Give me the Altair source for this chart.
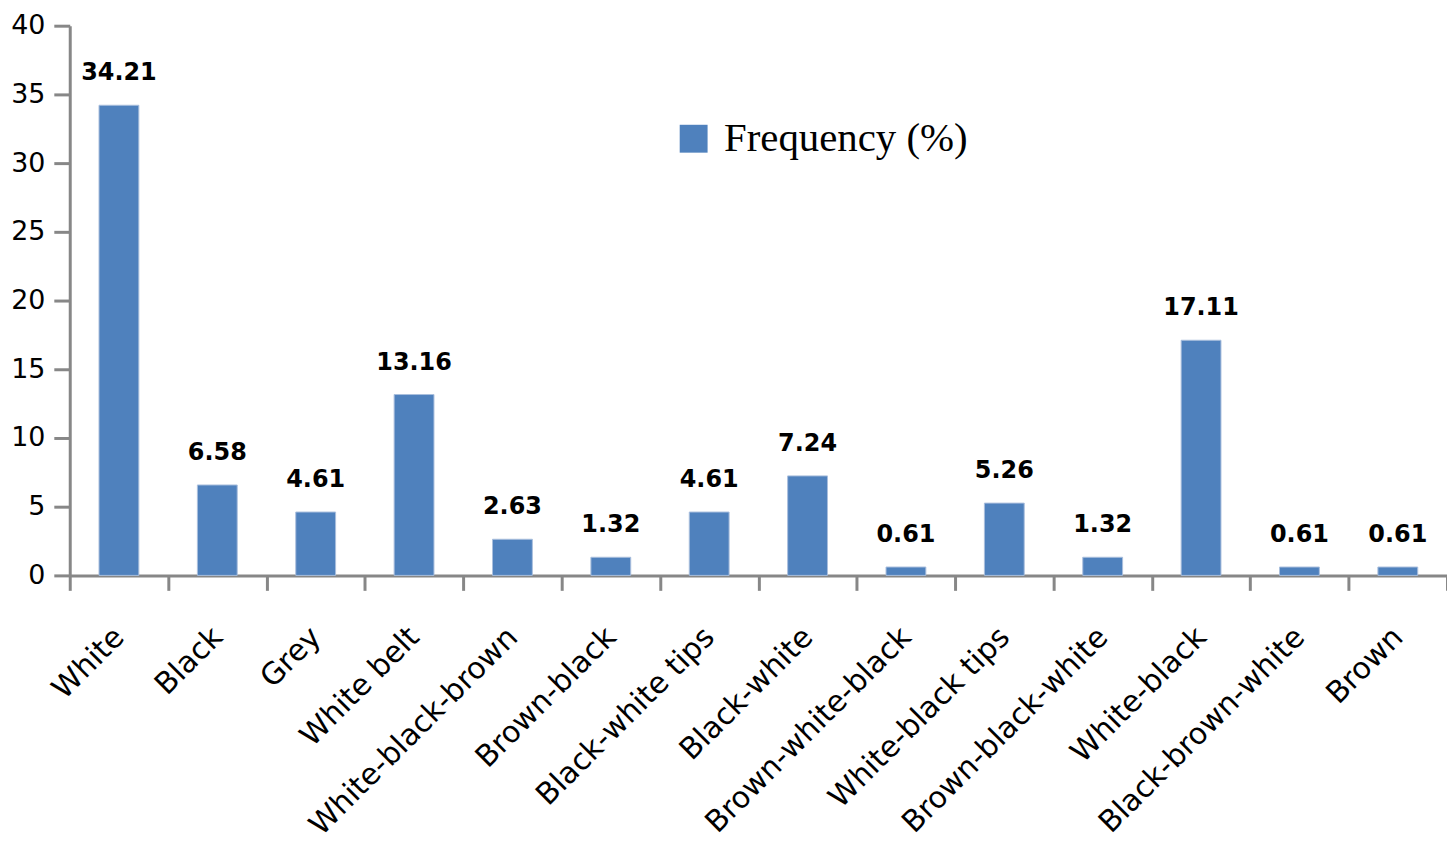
import altair as alt
import pandas as pd

categories = ["White", "Black", "Grey", "White belt", "White-black-brown", "Brown-black",
              "Black-white tips", "Black-white", "Brown-white-black", "White-black tips",
              "Brown-black-white", "White-black", "Black-brown-white", "Brown"]
values = [34.21, 6.58, 4.61, 13.16, 2.63, 1.32, 4.61, 7.24, 0.61, 5.26, 1.32, 17.11, 0.61, 0.61]
series = "Frequency (%)"
y_ticks = [0, 5, 10, 15, 20, 25, 30, 35, 40]

df = pd.DataFrame({"cat": categories, "val": values, "series": series})
df["lab"] = df["val"].map(lambda v: f"{v:.2f}")

W, H = 1383, 552
AX = "#878787"

x = alt.X("cat:N", sort=categories, title=None,
          scale=alt.Scale(paddingInner=0, paddingOuter=0),
          axis=alt.Axis(labelAngle=-45, labelAlign="right", labelBaseline="middle",
                        labelFont="DejaVu Sans", labelFontSize=30, labelColor="#000000",
                        labelPadding=42, tickBand="extent", tickSize=15, tickWidth=3,
                        tickColor=AX, domainColor=AX, domainWidth=3, labelOverlap=False,
                        labelLimit=0))
y = alt.Y("val:Q", title=None, scale=alt.Scale(domain=[0, 40], nice=False),
          axis=alt.Axis(values=y_ticks, grid=False, tickSize=16, tickWidth=3,
                        tickColor=AX, domainColor=AX, domainWidth=3,
                        labelFont="DejaVu Sans", labelFontSize=27, labelColor="#000000",
                        labelPadding=9))

bars = alt.Chart(df).mark_bar(size=40, stroke="#A9BEDD", strokeWidth=1).encode(
    x=x, y=y,
    color=alt.Color("series:N", title=None,
                    scale=alt.Scale(domain=[series], range=["#4F81BD"]),
                    legend=alt.Legend(orient="none", legendX=606, legendY=93,
                                      symbolType="square", symbolSize=784,
                                      symbolStrokeWidth=0,
                                      labelFont="Liberation Serif", labelFontSize=41,
                                      labelColor="#000000", labelLimit=0, labelOffset=10)),
)

text = alt.Chart(df).mark_text(dy=-32, baseline="middle", fontWeight="bold",
                               font="DejaVu Sans", fontSize=24, color="#000000").encode(
    x=alt.X("cat:N", sort=categories), y="val:Q", text="lab:N")

chart = (bars + text).properties(
    width=W, height=H,
    autosize=alt.AutoSizeParams(type="none"),
    padding={"left": 62, "top": 16, "right": 0, "bottom": 279},
).configure_view(stroke=None)

chart.save("out.html", embed_options={"renderer": "svg", "actions": False})
